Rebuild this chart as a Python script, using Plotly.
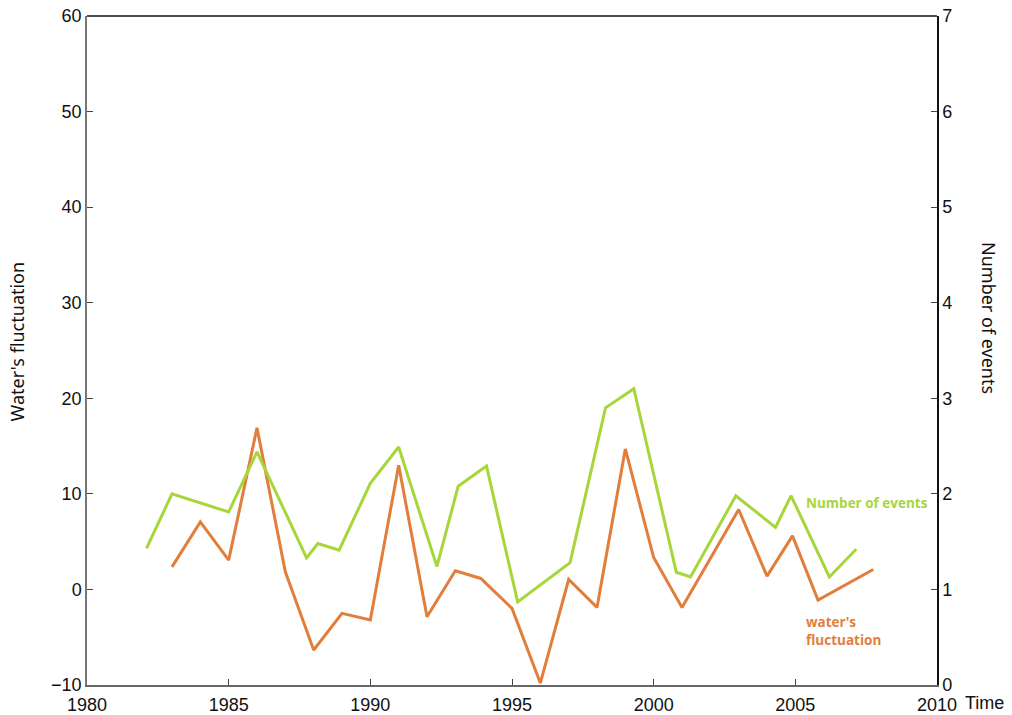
import plotly.graph_objects as go

# Number of events per year (right axis)
events_years = [1982.1, 1983.0, 1985.0, 1986.0, 1987.75, 1988.15, 1988.9, 1990.0,
                1991.0, 1992.35, 1993.1, 1994.1, 1995.2, 1997.05, 1998.3, 1999.3,
                2000.8, 2001.3, 2002.9, 2004.3, 2004.85, 2006.2, 2007.15]
events_counts = [1.43, 2.0, 1.81, 2.44, 1.33, 1.48, 1.41, 2.11,
                 2.49, 1.24, 2.08, 2.29, 0.87, 1.28, 2.90, 3.10,
                 1.18, 1.13, 1.98, 1.65, 1.98, 1.13, 1.42]

# Water's fluctuation (left axis)
water_years = [1983.0, 1984.0, 1985.0, 1986.0, 1987.0, 1988.0, 1989.0, 1990.0,
               1991.0, 1992.0, 1993.0, 1993.9, 1995.0, 1996.0, 1997.0, 1998.0,
               1999.0, 2000.0, 2001.0, 2003.0, 2004.0, 2004.9, 2005.8, 2007.75]
water_values = [2.36, 7.06, 3.06, 16.9, 1.84, -6.34, -2.5, -3.2,
                13.0, -2.86, 1.95, 1.15, -1.99, -9.8, 1.04, -1.88,
                14.7, 3.34, -1.88, 8.36, 1.39, 5.6, -1.12, 2.09]

x_ticks = [1980, 1985, 1990, 1995, 2000, 2005, 2010]
left_ticks = [-10, 0, 10, 20, 30, 40, 50, 60]
right_ticks = [0, 1, 2, 3, 4, 5, 6, 7]

GREEN = "#a6d63a"
ORANGE = "#e27e3b"

fig = go.Figure()
fig.add_trace(go.Scatter(x=events_years, y=events_counts, mode="lines", yaxis="y2",
                         line=dict(color=GREEN, width=3), name="Number of events"))
fig.add_trace(go.Scatter(x=water_years, y=water_values, mode="lines", yaxis="y",
                         line=dict(color=ORANGE, width=3), name="water's fluctuation"))

tick_font = dict(family="Liberation Sans, Arial", size=18, color="#111")

fig.update_layout(
    width=1012, height=715,
    margin=dict(l=87, r=75, t=16, b=30),
    paper_bgcolor="white", plot_bgcolor="white",
    showlegend=False,
    xaxis=dict(range=[1980, 2010], tickvals=x_ticks, ticks="inside", ticklen=6,
               tickcolor="#444", showline=True, linecolor="#666", linewidth=1.5,
               showgrid=False, zeroline=False, tickfont=tick_font,
               automargin=False, ticklabelstandoff=3),
    yaxis=dict(range=[-10, 60], tickvals=left_ticks, ticks="inside", ticklen=6,
               tickcolor="#444", showline=True, linecolor="#777", linewidth=1.5,
               showgrid=False, zeroline=False, tickfont=tick_font, automargin=False),
    yaxis2=dict(range=[0, 7], tickvals=right_ticks, ticks="inside", ticklen=6,
                tickcolor="#444", overlaying="y", side="right", showline=True,
                linecolor="#111", linewidth=1.5, showgrid=False, zeroline=False,
                tickfont=tick_font, automargin=False),
    shapes=[dict(type="line", xref="paper", yref="paper", x0=0, x1=1, y0=1, y1=1,
                 line=dict(color="#111", width=1.5))],
    annotations=[
        dict(text="Water's fluctuation", xref="paper", yref="paper", x=-0.082, y=0.514,
             xanchor="center", yanchor="middle", textangle=-90, showarrow=False,
             font=dict(family="Noto Sans", size=18, color="#111")),
        dict(text="Number of events", xref="paper", yref="paper", x=1.062, y=0.549,
             xanchor="center", yanchor="middle", textangle=90, showarrow=False,
             font=dict(family="Noto Sans", size=18, color="#111")),
        dict(text="Time", xref="paper", yref="paper", x=1.056, y=-0.027,
             xanchor="center", yanchor="middle", showarrow=False,
             font=dict(family="Liberation Sans, Arial", size=18, color="#111")),
        dict(text="<b>Number of events</b>", xref="x", yref="y", x=2005.32, y=9.0,
             xanchor="left", yanchor="middle", showarrow=False,
             font=dict(family="Open Sans", size=13.5, color=GREEN)),
        dict(text="<b>water's<br>fluctuation</b>", xref="x", yref="y", x=2005.32, y=-4.36,
             xanchor="left", yanchor="middle", align="left", showarrow=False,
             font=dict(family="Open Sans", size=13.5, color=ORANGE)),
    ],
)

fig.write_html("out.html")
